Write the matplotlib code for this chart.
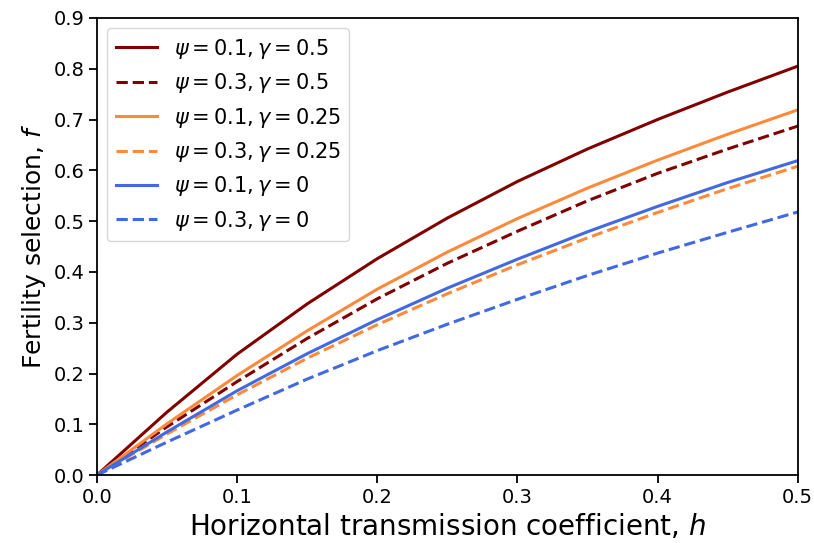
import matplotlib
matplotlib.use("Agg")
import matplotlib.pyplot as plt

# valores
h = [0, 0.05, 0.1, 0.15, 0.2, 0.25, 0.3, 0.35, 0.4, 0.45, 0.5]

f_p01_g05 = [0, 0.124, 0.238, 0.337, 0.426, 0.506, 0.578, 0.642, 0.700, 0.754, 0.805]
f_p03_g05 = [0, 0.095, 0.184, 0.269, 0.347, 0.417, 0.480, 0.540, 0.594, 0.642, 0.687]
f_p01_g025 = [0, 0.101, 0.196, 0.284, 0.366, 0.439, 0.505, 0.565, 0.620, 0.671, 0.719]
f_p03_g025 = [0, 0.081, 0.158, 0.230, 0.296, 0.357, 0.414, 0.467, 0.517, 0.564, 0.608]
f_p01_g0 = [0, 0.085, 0.166, 0.239, 0.306, 0.368, 0.425, 0.479, 0.529, 0.576, 0.619]
f_p03_g0 = [0, 0.065, 0.128, 0.189, 0.245, 0.297, 0.346, 0.393, 0.437, 0.478, 0.518]

labels = [r'$\psi = 0.1, \gamma = 0.5$', r'$\psi = 0.3, \gamma = 0.5$',
          r'$\psi = 0.1, \gamma = 0.25$', r'$\psi = 0.3, \gamma = 0.25$',
          r'$\psi = 0.1, \gamma = 0$', r'$\psi = 0.3, \gamma = 0$']

rojo = '#800000'
naranja = '#fd8a3a'
azul = '#4169e1'

fig = plt.figure(figsize=(8.14, 5.43), dpi=100)
ax = fig.add_axes([0.119, 0.125, 0.861, 0.842])

ax.plot(h, f_p01_g05, color=rojo, lw=2.2, ls='-', label=labels[0])
ax.plot(h, f_p03_g05, color=rojo, lw=2.2, ls='--', label=labels[1])
ax.plot(h, f_p01_g025, color=naranja, lw=2.2, ls='-', label=labels[2])
ax.plot(h, f_p03_g025, color=naranja, lw=2.2, ls='--', label=labels[3])
ax.plot(h, f_p01_g0, color=azul, lw=2.2, ls='-', label=labels[4])
ax.plot(h, f_p03_g0, color=azul, lw=2.2, ls='--', label=labels[5])

ax.set_xlim(0, 0.5)
ax.set_ylim(0, 0.9)
ax.set_xticks([0, 0.1, 0.2, 0.3, 0.4, 0.5])
ax.set_yticks([0, 0.1, 0.2, 0.3, 0.4, 0.5, 0.6, 0.7, 0.8, 0.9])
ax.tick_params(labelsize=14, width=1.3, length=5.5)
for s in ax.spines.values():
    s.set_linewidth(1.3)

ax.set_xlabel(r'Horizontal transmission coefficient, $h$', fontsize=20)
ax.set_ylabel(r'Fertility selection, $f$', fontsize=18)
ax.legend(loc='upper left', fontsize=15)

fig.savefig('out.png', dpi=100)
